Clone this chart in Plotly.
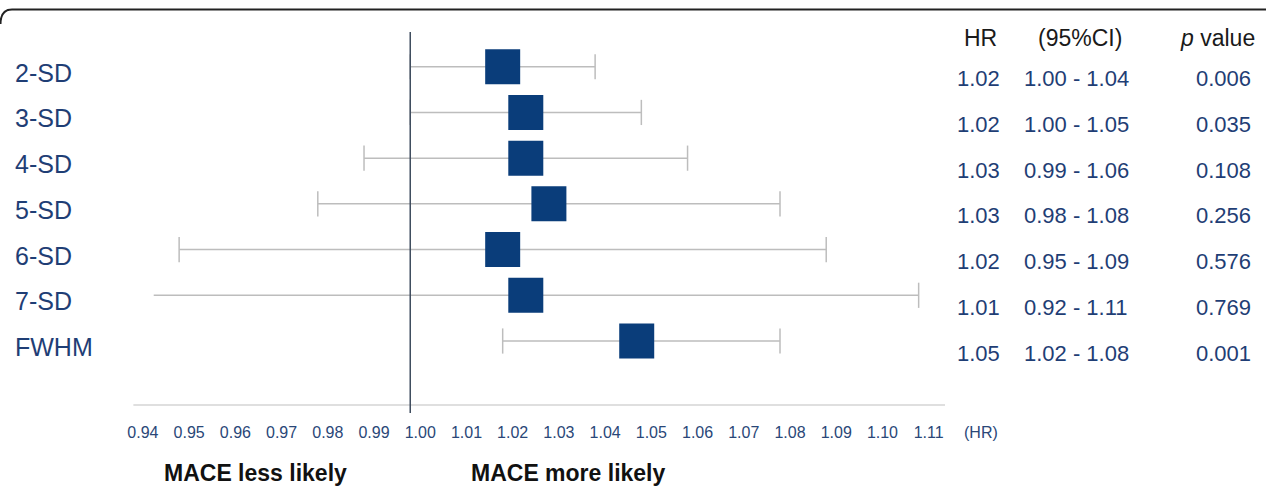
import plotly.graph_objects as go

# ---------------- data ----------------
rows = ["2-SD", "3-SD", "4-SD", "5-SD", "6-SD", "7-SD", "FWHM"]
hr_point = [1.020, 1.025, 1.025, 1.030, 1.020, 1.025, 1.049]   # box centres as drawn
ci_low = [1.00, 1.00, 0.99, 0.98, 0.95, 0.92, 1.02]
ci_high = [1.04, 1.05, 1.06, 1.08, 1.09, 1.11, 1.08]
hr_text = ["1.02", "1.02", "1.03", "1.03", "1.02", "1.01", "1.05"]
ci_text = ["1.00 - 1.04", "1.00 - 1.05", "0.99 - 1.06", "0.98 - 1.08",
           "0.95 - 1.09", "0.92 - 1.11", "1.02 - 1.08"]
p_text = ["0.006", "0.035", "0.108", "0.256", "0.576", "0.769", "0.001"]
tick_vals = [0.94, 0.95, 0.96, 0.97, 0.98, 0.99, 1.00, 1.01, 1.02, 1.03, 1.04,
             1.05, 1.06, 1.07, 1.08, 1.09, 1.10, 1.11]
tick_labels = [f"{v:.2f}" for v in tick_vals]
headers = ["HR", "(95%CI)", "<i>p</i> value"]
ref_value = 1.00
clip_low = 0.9445          # whiskers are cut at the left edge of the drawing
x_range = [0.9398, 1.1157]
y_range = [-0.575, 7.76]
axis_y = -0.40

# ---------------- styles ----------------
FONT = "Liberation Sans, Arial, sans-serif"
NAVY = "#1f3e75"
BOX = "#0a3d7a"
WHISK = "#bdbdbd"
TICK = "#2a4778"

n = len(rows)
ypos = [n - i for i in range(n)]  # 2-SD at top

fig = go.Figure()

# axis base line
fig.add_trace(go.Scatter(x=[0.9401, x_range[1]], y=[axis_y, axis_y], mode="lines",
                         line=dict(color="#d4d4d4", width=1.5),
                         hoverinfo="skip", showlegend=False))

# whiskers
for i in range(n):
    lo = max(ci_low[i], clip_low)
    fig.add_trace(go.Scatter(x=[lo, ci_high[i]], y=[ypos[i], ypos[i]], mode="lines",
                             line=dict(color=WHISK, width=1.5),
                             hoverinfo="skip", showlegend=False))
    caps_x = [ci_high[i]] + ([ci_low[i]] if ci_low[i] >= clip_low else [])
    fig.add_trace(go.Scatter(x=caps_x, y=[ypos[i]] * len(caps_x), mode="markers",
                             marker=dict(symbol="line-ns", size=18,
                                         line=dict(color=WHISK, width=1.5)),
                             hoverinfo="skip", showlegend=False))

# reference line at HR = 1
fig.add_trace(go.Scatter(x=[ref_value, ref_value], y=y_range, mode="lines",
                         line=dict(color="#3e4c5e", width=1.5),
                         hoverinfo="skip", showlegend=False))

# boxes
fig.add_trace(go.Scatter(x=hr_point, y=ypos, mode="markers",
                         marker=dict(symbol="square", size=35, color=BOX,
                                     line=dict(width=0)),
                         showlegend=False))

annotations = []
PLOT_L, PLOT_R = 132, 945
for i in range(n):
    annotations.append(dict(text=rows[i], xref="paper", x=0, xshift=13 - PLOT_L,
                            xanchor="left", yref="y", y=ypos[i], yshift=-6,
                            yanchor="middle", showarrow=False,
                            font=dict(family=FONT, size=25, color=NAVY)))
    annotations.append(dict(text=hr_text[i], xref="paper", x=1, xshift=1002 - PLOT_R,
                            xanchor="right", yref="y", y=ypos[i], yshift=-12,
                            yanchor="middle", showarrow=False,
                            font=dict(family=FONT, size=22, color=NAVY)))
    annotations.append(dict(text=ci_text[i], xref="paper", x=1, xshift=1022 - PLOT_R,
                            xanchor="left", yref="y", y=ypos[i], yshift=-12,
                            yanchor="middle", showarrow=False,
                            font=dict(family=FONT, size=22, color=NAVY)))
    annotations.append(dict(text=p_text[i], xref="paper", x=1, xshift=1253 - PLOT_R,
                            xanchor="right", yref="y", y=ypos[i], yshift=-12,
                            yanchor="middle", showarrow=False,
                            font=dict(family=FONT, size=22, color=NAVY)))

# headers
hdr_pos = [(980, "center"), (1080, "center"), (1257, "right")]
for h, (px_, anc) in zip(headers, hdr_pos):
    annotations.append(dict(text=h, xref="paper", x=1, xshift=px_ - PLOT_R,
                            xanchor=anc, yref="paper", y=1, yshift=-6,
                            yanchor="middle", showarrow=False,
                            font=dict(family=FONT, size=23, color="#1a1a1a")))

# (HR) unit label
annotations.append(dict(text="(HR)", xref="paper", x=1, xshift=981 - PLOT_R,
                        xanchor="center", yref="paper", y=0, yshift=-19,
                        yanchor="middle", showarrow=False,
                        font=dict(family=FONT, size=16, color=TICK)))

# bottom captions
for txt, cx in [("<b>MACE less likely</b>", 255), ("<b>MACE more likely</b>", 568)]:
    annotations.append(dict(text=txt, xref="paper", x=0, xshift=cx - PLOT_L,
                            xanchor="center", yref="paper", y=0, yshift=-60,
                            yanchor="middle", showarrow=False,
                            font=dict(family=FONT, size=23, color="#111111")))

# top border with rounded left corner (paper coords)
W_PLOT = PLOT_R - PLOT_L
H_PLOT = 413 - 32
def px(xp):
    return (xp - PLOT_L) / W_PLOT
def py(yp):
    return (413 - yp) / H_PLOT
border = (f"M {px(0.5)},{py(24)} Q {px(0.5)},{py(9.5)} {px(12)},{py(9.5)} "
          f"L {px(1270)},{py(9.5)}")

fig.update_layout(
    width=1266, height=486,
    margin=dict(l=PLOT_L, r=1266 - PLOT_R, t=32, b=486 - 413),
    paper_bgcolor="white", plot_bgcolor="white",
    xaxis=dict(range=x_range, tickvals=tick_vals, ticktext=tick_labels,
               showgrid=False, zeroline=False, showline=False,
               ticks="outside", ticklen=5, tickcolor="rgba(0,0,0,0)",
               ticklabelshift=10,
               tickfont=dict(family=FONT, size=16, color=TICK)),
    yaxis=dict(range=y_range, showgrid=False, zeroline=False, showline=False,
               showticklabels=False, ticks=""),
    annotations=annotations,
    shapes=[dict(type="path", path=border, xref="paper", yref="paper",
                 line=dict(color="#222222", width=2))],
    showlegend=False,
)

fig.write_html("out.html", config={"displayModeBar": False},
               post_script="document.body.style.margin='0';document.body.style.overflow='hidden';")
